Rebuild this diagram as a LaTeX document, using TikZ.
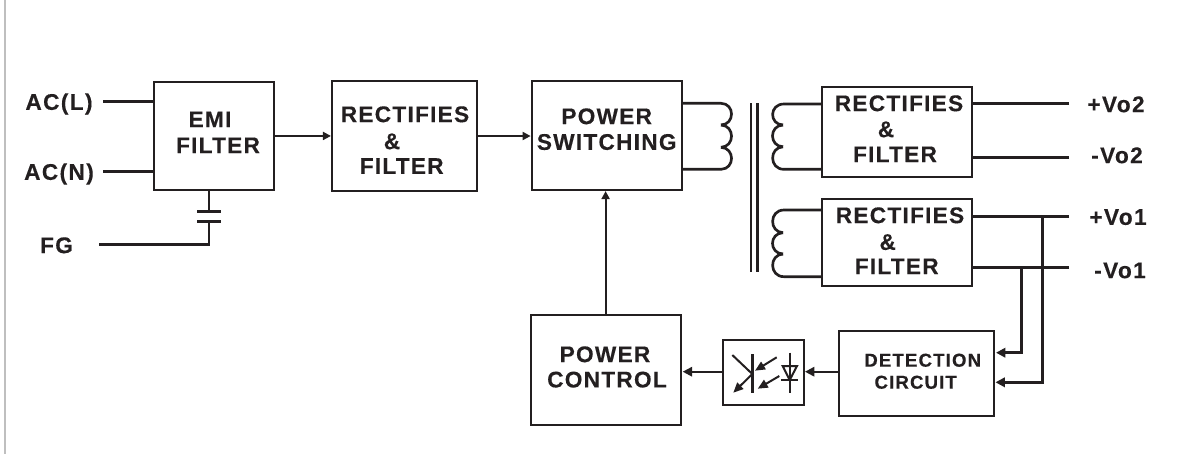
\documentclass[tikz,border=0pt]{standalone}
\usepackage{fontspec}
\setmainfont{Liberation Sans}
\usetikzlibrary{arrows.meta}
\definecolor{ink}{HTML}{231F20}
\newfontface\blabfont[LetterSpace=5.5,FakeBold=0.3]{Liberation Sans Bold}
\newfontface\olabfont[LetterSpace=6,FakeBold=0.3]{Liberation Sans Bold}
\newfontface\slabfont[LetterSpace=6,FakeBold=0.3]{Liberation Sans Bold}
\tikzset{
 x=0.75pt,y=-0.75pt,
 blockbox/.style={draw=ink,line width=1.5pt,inner sep=0pt,outer sep=0pt,anchor=north west},
 wire/.style={draw=ink,line width=2pt},
 thin wire/.style={draw=ink,line width=1.4pt},
 opto line/.style={draw=ink,line width=1.5pt},
 blab/.style={text=ink,font=\blabfont\fontsize{17}{20}\selectfont,inner sep=0pt,text height=12.2pt,text depth=0pt},
 olab/.style={text=ink,font=\olabfont\fontsize{17}{20}\selectfont,inner sep=0pt,text height=12.2pt,text depth=0pt},
 slab/.style={text=ink,font=\slabfont\fontsize{14}{16}\selectfont,inner sep=0pt,text height=10pt,text depth=0pt},
 tip/.style={-{Triangle[length=7pt,width=7pt]}},
 smalltip/.style={-{Triangle[length=6pt,width=6pt]},shorten >=0.8pt},
 optotip/.style={-{Triangle[length=7.5pt,width=6.5pt]}},
}
\newcommand{\blk}[5]{\node[blockbox,minimum width=#4*0.75pt,minimum height=#5*0.75pt] (#1) at (#2,#3) {};}
\begin{document}
\begin{tikzpicture}
\useasboundingbox (0,0) rectangle (1180,454);
\draw[draw=black!25,line width=1.5pt] (5,0) -- (5,454);
% blocks
\blk{emi}{153.7}{81.7}{120.3}{108.5}
\blk{rf}{332}{81}{144.7}{110}
\blk{psw}{531.7}{81}{150}{109}
\blk{rtop}{822}{86.7}{150}{90}
\blk{rbot}{822}{199}{150}{87}
\blk{det}{839}{331}{155.3}{84.7}
\blk{pc}{530.5}{315}{150.2}{110}
\blk{opto}{723}{340}{80.5}{65}
% block texts
\node[blab] (t1) at (210,119) {EMI};
\node[blab] (t2) at (218,145) {FILTER};
\node[blab] (t3) at (405,114) {RECTIFIES};
\node[blab] (t4) at (392,141) {\&};
\node[blab] (t5) at (401.7,165.7) {FILTER};
\node[blab] (t6) at (606.7,116) {POWER};
\node[blab] (t7) at (606.7,141.7) {SWITCHING};
\node[blab] (t8) at (899,103) {RECTIFIES};
\node[blab] (t9) at (886,129) {\&};
\node[blab] (t10) at (895,154) {FILTER};
\node[blab] (t11) at (900,215) {RECTIFIES};
\node[blab] (t12) at (887.7,241.7) {\&};
\node[blab] (t13) at (896.7,266) {FILTER};
\node[slab] (t14) at (922.7,360) {DETECTION};
\node[slab] (t15) at (915.7,382) {CIRCUIT};
\node[blab] (t16) at (605,354) {POWER};
\node[blab] (t17) at (607,379.3) {CONTROL};
% outer labels
\node[olab] (acl) at (59,101.7) {AC(L)};
\node[olab] (acn) at (59,171.7) {AC(N)};
\node[olab] (fg) at (56.5,245) {FG};
\node[olab] (vo2p) at (1116,104) {+Vo2};
\node[olab] (vo2n) at (1117,155) {-Vo2};
\node[olab] (vo1p) at (1118,216.7) {+Vo1};
\node[olab] (vo1n) at (1120,270) {-Vo1};
% input wires
\coordinate (aclw) at (103,101.3);
\coordinate (acnw) at (103,171.3);
\coordinate (fgw) at (99,244.3);
\draw[wire] (aclw) -- (aclw-|emi.west);
\draw[wire] (acnw) -- (acnw-|emi.west);
\coordinate (capt) at (209,211.3);
\coordinate (capb) at (209,221.3);
\draw[wire] (capt|-emi.south) -- (capt);
\draw[wire] (fgw) -- (fgw-|capb) -- (capb);
\draw[wire] (197,211.3) -- (221,211.3);
\draw[wire] (197,221.3) -- (221,221.3);
% forward arrows
\draw[thin wire,smalltip] (emi.east) -- (emi.east-|rf.west);
\draw[thin wire,smalltip] (rf.east) -- (rf.east-|psw.west);
\draw[opto line,smalltip] (pc.north) -- (pc.north|-psw.south);
% primary winding
\draw[wire] (psw.east|-0,103.3) -- (721,103.3) .. controls (735,103.5) and (735,124.5) .. (721,125);
\draw[wire] (721,125) .. controls (735,125.5) and (735,146.8) .. (721,147.3);
\draw[wire] (721,147.3) .. controls (735,147.8) and (735,169) .. (721,169.3) -- (psw.east|-0,169.3);
% core
\draw[draw=ink,line width=1.7pt] (751.3,103.3) -- (751.3,272.3);
\draw[draw=ink,line width=2.5pt] (757.7,103.3) -- (757.7,272.3);
% secondary top
\draw[wire] (rtop.west|-0,104) -- (784,104) .. controls (769,104) and (769,124.5) .. (783,125);
\draw[wire] (783,125) .. controls (769,125.5) and (769,146.3) .. (783,146.8);
\draw[wire] (783,146.8) .. controls (769,147.3) and (769,169.3) .. (784,169.3) -- (rtop.west|-0,169.3);
% secondary bottom
\draw[wire] (rbot.west|-0,210) -- (784,210) .. controls (769,210) and (769,232.2) .. (783,232.7);
\draw[wire] (783,232.7) .. controls (769,233.2) and (769,253.5) .. (783,254);
\draw[wire] (783,254) .. controls (769,254.5) and (769,276.7) .. (784,276.7) -- (rbot.west|-0,276.7);
% outputs
\coordinate (o2p) at (1069,103.3);
\coordinate (o2n) at (1069,157.3);
\coordinate (o1p) at (1069,216.4);
\coordinate (o1n) at (1069,267.3);
\draw[wire] (o2p) -- (o2p-|rtop.east);
\draw[wire] (o2n) -- (o2n-|rtop.east);
\draw[wire] (o1p) -- (o1p-|rbot.east);
\draw[wire] (o1n) -- (o1n-|rbot.east);
% feedback
\coordinate (j1) at (1021.7,267.3);
\coordinate (j2) at (1042.3,216.4);
\coordinate (d1) at (996,352.7);
\coordinate (d2) at (995.5,382.3);
\coordinate (fb) at (805,371.7);
\coordinate (fc) at (682.7,371.7);
\draw[wire,tip] (j1) -- (j1|-d1) -- (d1);
\draw[wire,tip] (j2) -- (j2|-d2) -- (d2);
\draw[opto line,tip] (fb-|det.west) -- (fb);
\draw[opto line,tip] (fc-|opto.west) -- (fc);
% optocoupler
\draw[wire] (752.3,354) -- (752.3,392.7);
\draw[opto line] (732.3,355) -- (752.3,374);
\draw[opto line,optotip] (752.3,374) -- (733.3,392.7);
\draw[opto line,optotip] (776.7,357.3) -- (755,370.7);
\draw[opto line,optotip] (779.3,376) -- (757.7,388.7);
\draw[opto line] (789.7,352.7) -- (789.7,393.3);
\draw[opto line] (782.7,366) -- (797,366) -- (789.7,380) -- cycle;
\draw[opto line] (781,380) -- (798.3,380);
\end{tikzpicture}
\end{document}
